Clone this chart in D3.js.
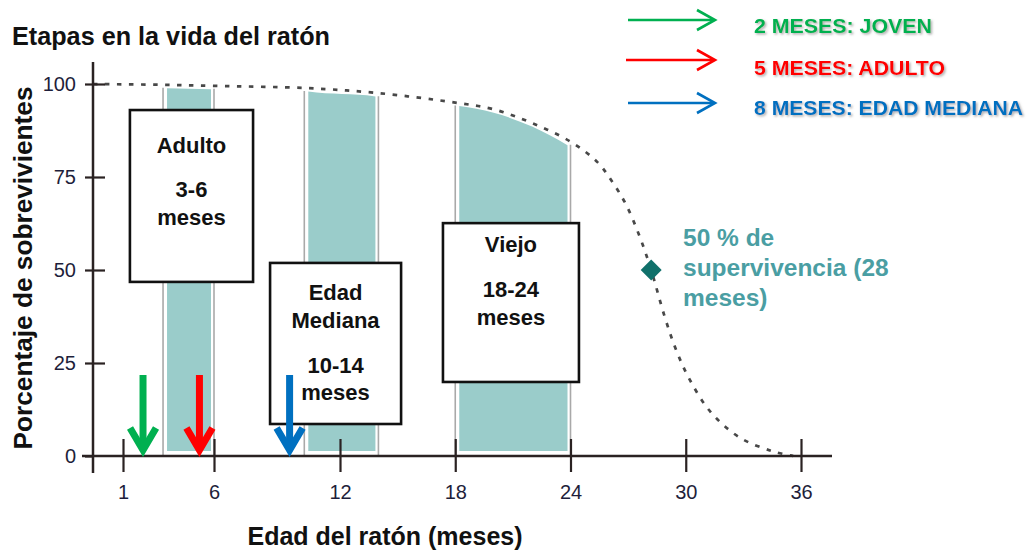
<!DOCTYPE html>
<html><head><meta charset="utf-8">
<script src="https://cdn.jsdelivr.net/npm/d3@7"></script>
<style>
html,body{margin:0;padding:0;background:#fff;}
svg{display:block;font-family:"Liberation Sans",Arial,sans-serif;}
</style></head>
<body>
<svg id="chart" width="1029" height="551"></svg>
<script>
// ---------- DATA ----------
const title = "Etapas en la vida del ratón";
const xTitle = "Edad del ratón (meses)";
const yTitle = "Porcentaje de sobrevivientes";
const xTickValues = [1, 6, 12, 18, 24, 30, 36];
const yTickValues = [0, 25, 50, 75, 100];
// survival curve (months, % survivors)
const survMonths = [0, 3, 6, 10.4, 13.9, 18, 20, 22, 24, 25.4, 26.2, 26.9, 27.6, 28.2, 28.9, 29.5, 30.2, 31.3, 32.8, 34.5, 35.6];
const survPct    = [100, 99.8, 99.5, 98.9, 97.6, 95, 93.2, 89.5, 84.5, 79, 73.5, 67.5, 59, 50, 37.5, 28.5, 20.6, 11.8, 5, 1.3, 0];
// life stages (shaded bands)
const stageStart = [3.2, 10.3, 18];
const stageEnd   = [6, 14, 24];
const stageNames = ["Adulto", "Edad Mediana", "Viejo"];
const stageLines = [["Adulto", "3-6", "meses"], ["Edad", "Mediana", "10-14", "meses"], ["Viejo", "18-24", "meses"]];
// marker arrows (month where each arrow points)
const arrowMonths = [2.1, 5.2, 9.6];
const legendLabels = ["2 MESES: JOVEN", "5 MESES: ADULTO", "8 MESES: EDAD MEDIANA"];
const arrowColors = ["#00b050", "#ff0000", "#0070c0"];
// 50% survival point
const medianMonth = 28.2, medianPct = 50;
const medianText = ["50 % de", "supervivencia (28", "meses)"];

// ---------- LAYOUT ----------
const x = d3.scaleLinear().domain([0, 1, 6, 12, 36]).range([93, 123, 214, 340, 801]);
const y = d3.scaleLinear().domain([0, 100]).range([456, 84]);
// annotation boxes in data units (months / %)
const boxes = [
  {x0: 1.38, x1: 7.86, y0: 93.0, y1: 46.8, offs: [43, 87, 115]},
  {x0: 8.67, x1: 15.18, y0: 51.9, y1: 8.6, offs: [37, 65, 110, 137]},
  {x0: 17.36, x1: 24.44, y0: 62.6, y1: 19.9, offs: [29, 74, 102]}
];

const svg = d3.select("#chart");
const defs = svg.append("defs");
const f = defs.append("filter").attr("id", "shadow").attr("x", "-10%").attr("y", "-30%").attr("width", "130%").attr("height", "170%");
f.append("feDropShadow").attr("dx", 1.5).attr("dy", 1.5).attr("stdDeviation", 0.9).attr("flood-color", "#777").attr("flood-opacity", 0.6);

const surv = survMonths.map((m, i) => ({m, p: survPct[i]}));
function survAt(m) {
  for (let i = 1; i < surv.length; i++) {
    if (m <= surv[i].m) {
      const a = surv[i - 1], b = surv[i];
      return a.p + (b.p - a.p) * (m - a.m) / (b.m - a.m);
    }
  }
  return 0;
}
const smooth = d3.curveCatmullRom.alpha(0.5);

// ---------- STAGE BANDS ----------
const baseY = y(0);
stageStart.forEach((s, i) => {
  const e = stageEnd[i];
  const pts = [{m: s, p: survAt(s)}].concat(surv.filter(d => d.m > s && d.m < e)).concat([{m: e, p: survAt(e)}]);
  const area = d3.area()
    .x(d => Math.max(x(s) + 4, Math.min(x(e) - 3, x(d.m))))
    .y0(baseY - 5)
    .y1(d => y(d.p) + 3.5)
    .curve(d3.curveMonotoneX);
  svg.append("path").attr("d", area(pts)).attr("fill", "#9accca");
  [s, e].forEach(m => {
    svg.append("line")
      .attr("x1", x(m)).attr("x2", x(m))
      .attr("y1", y(survAt(m)) + 3).attr("y2", baseY)
      .attr("stroke", "#a9a9a9").attr("stroke-width", 1.6);
  });
});

// ---------- SURVIVAL CURVE ----------
const line = d3.line().x(d => x(d.m)).y(d => y(d.p)).curve(smooth);
svg.append("path").attr("d", line(surv))
  .attr("fill", "none").attr("stroke", "#484848").attr("stroke-width", 2.7)
  .attr("stroke-dasharray", "4.5,7.5");

// ---------- AXES ----------
const axisColor = "#2a2222";
svg.append("line").attr("x1", x(0)).attr("x2", x(0)).attr("y1", 62).attr("y2", baseY + 17)
  .attr("stroke", axisColor).attr("stroke-width", 2.5);
svg.append("line").attr("x1", x(0) - 11).attr("x2", 832).attr("y1", baseY).attr("y2", baseY)
  .attr("stroke", axisColor).attr("stroke-width", 2.5);

const xAxis = svg.append("g").attr("transform", `translate(0,${baseY})`)
  .call(d3.axisBottom(x).tickValues(xTickValues).tickSize(16).tickPadding(20).tickFormat(d3.format("d")));
xAxis.select(".domain").remove();
xAxis.selectAll(".tick line").attr("y1", -17).attr("y2", 16).attr("stroke", axisColor).attr("stroke-width", 2.2);
xAxis.selectAll(".tick text").attr("font-size", 20).attr("fill", "#1e1e3a").attr("dy", "0.32em")
  .attr("font-family", "'Liberation Sans',Arial,sans-serif").attr("y", 37);

const yAxis = svg.append("g").attr("transform", `translate(${x(0)},0)`)
  .call(d3.axisLeft(y).tickValues(yTickValues).tickSize(8).tickPadding(10).tickFormat(d3.format("d")));
yAxis.select(".domain").remove();
yAxis.selectAll(".tick line").attr("x1", -8).attr("x2", d => d === 0 ? 0 : 12).attr("stroke", axisColor).attr("stroke-width", 2.2);
yAxis.selectAll(".tick text").attr("font-size", 20).attr("fill", "#1e1e3a")
  .attr("font-family", "'Liberation Sans',Arial,sans-serif").attr("x", -17);

// ---------- TITLES ----------
svg.append("text").attr("x", 12).attr("y", 45).attr("font-size", 25).attr("font-weight", "bold")
  .attr("fill", "#111").attr("textLength", 318).attr("lengthAdjust", "spacingAndGlyphs").text(title);
svg.append("text").attr("x", 385).attr("y", 545).attr("text-anchor", "middle").attr("font-size", 25)
  .attr("font-weight", "bold").attr("fill", "#111").text(xTitle);
svg.append("text").attr("transform", "translate(32,268) rotate(-90)").attr("text-anchor", "middle")
  .attr("font-size", 25).attr("font-weight", "bold").attr("fill", "#111")
  .attr("textLength", 363).attr("lengthAdjust", "spacingAndGlyphs").text(yTitle);

// ---------- STAGE BOXES ----------
boxes.forEach((b, i) => {
  const bx0 = x(b.x0), bx1 = x(b.x1), by0 = y(b.y0), by1 = y(b.y1);
  svg.append("rect").attr("x", bx0).attr("y", by0).attr("width", bx1 - bx0).attr("height", by1 - by0)
    .attr("fill", "#fff").attr("stroke", "#111").attr("stroke-width", 2.6);
  stageLines[i].forEach((t, j) => {
    svg.append("text").attr("x", (bx0 + bx1) / 2).attr("y", by0 + b.offs[j]).attr("text-anchor", "middle")
      .attr("font-size", 22).attr("font-weight", "bold").attr("fill", "#111").text(t);
  });
});

// ---------- DOWN ARROWS ----------
arrowMonths.forEach((m, i) => {
  const ax = x(m);
  const g = svg.append("g").attr("stroke", arrowColors[i]).attr("fill", "none").attr("stroke-width", 7);
  g.append("line").attr("x1", ax).attr("x2", ax).attr("y1", 375).attr("y2", baseY - 6);
  g.append("path").attr("d", `M${ax - 13},${baseY - 28} L${ax},${baseY - 6} L${ax + 13},${baseY - 28}`)
    .attr("stroke-linejoin", "miter").attr("stroke-miterlimit", 10);
});

// ---------- LEGEND ----------
const legY = [20, 60, 103];
const legTextY = [33, 75, 115];
const legTextLen = [178, 191, 269];
legendLabels.forEach((t, i) => {
  const g = svg.append("g").attr("stroke", arrowColors[i]).attr("fill", "none").attr("stroke-width", 2.6);
  g.append("line").attr("x1", i === 1 ? 626 : 628).attr("x2", 714).attr("y1", legY[i]).attr("y2", legY[i]);
  g.append("path").attr("d", `M697,${legY[i] - 10} L715,${legY[i]} L697,${legY[i] + 10}`);
  svg.append("text").attr("x", 754).attr("y", legTextY[i]).attr("font-size", 21).attr("font-weight", "bold")
    .attr("fill", arrowColors[i]).attr("filter", "url(#shadow)")
    .attr("textLength", legTextLen[i]).attr("lengthAdjust", "spacingAndGlyphs").text(t);
});

// ---------- MEDIAN POINT ----------
svg.append("path").attr("d", d3.symbol(d3.symbolSquare, 220)())
  .attr("transform", `translate(${x(medianMonth)},${y(medianPct)}) rotate(45)`)
  .attr("fill", "#10706a");
medianText.forEach((t, j) => {
  svg.append("text").attr("x", 683).attr("y", 246 + j * 30).attr("font-size", 24.5).attr("font-weight", "bold")
    .attr("fill", "#4a9ea3").text(t);
});
</script>
</body></html>
